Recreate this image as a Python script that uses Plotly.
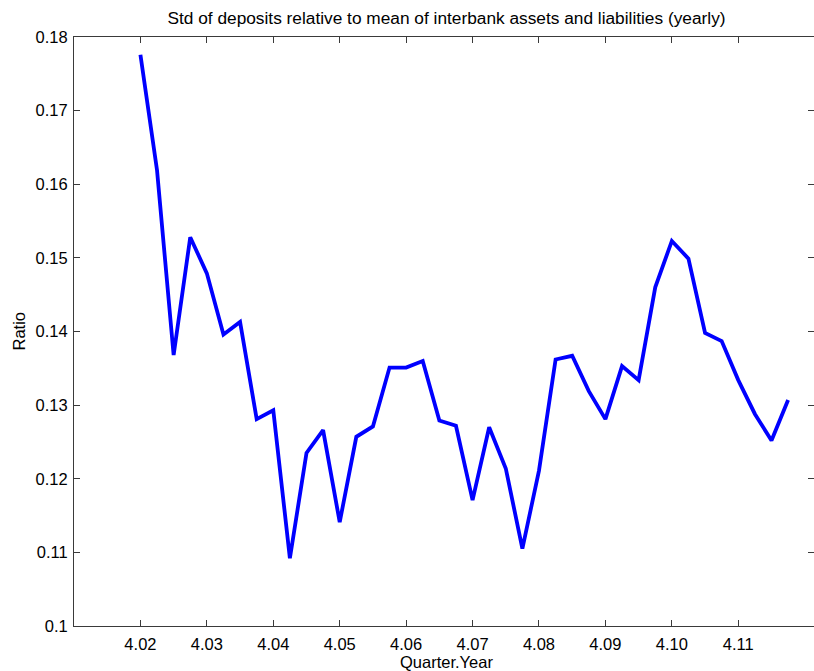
import plotly.graph_objects as go

# Data
quarters = [4.02 + 0.0025 * i for i in range(40)]
ratio = [0.1776, 0.1619, 0.1368, 0.1528, 0.1479, 0.1396, 0.1413, 0.1281, 0.1293, 0.1092,
         0.1235, 0.1266, 0.1141, 0.1257, 0.1271, 0.1351, 0.1351, 0.1360, 0.1279, 0.1272,
         0.1171, 0.1270, 0.1214, 0.1105, 0.1211, 0.1362, 0.1367, 0.1319, 0.1281, 0.1353,
         0.1334, 0.1460, 0.1523, 0.1499, 0.1398, 0.1387, 0.1334, 0.1288, 0.1252, 0.1307]
x_tick_vals = [4.02, 4.03, 4.04, 4.05, 4.06, 4.07, 4.08, 4.09, 4.10, 4.11]
x_tick_text = ["4.02", "4.03", "4.04", "4.05", "4.06", "4.07", "4.08", "4.09", "4.10", "4.11"]
y_tick_vals = [0.10, 0.11, 0.12, 0.13, 0.14, 0.15, 0.16, 0.17, 0.18]
y_tick_text = ["0.1", "0.11", "0.12", "0.13", "0.14", "0.15", "0.16", "0.17", "0.18"]

FONT = "Liberation Sans, Arial, sans-serif"
AX = "#3a3a3a"

fig = go.Figure()
fig.add_trace(go.Scatter(x=quarters, y=ratio, mode="lines",
                         line=dict(color="#0000FF", width=3.8),
                         showlegend=False, hoverinfo="x+y"))
fig.add_trace(go.Scatter(x=quarters, y=ratio, mode="lines", yaxis="y2",
                         line=dict(color="rgba(0,0,0,0)", width=0),
                         showlegend=False, hoverinfo="skip"))

W, H = 814, 671
L, R, T, B = 74, 0, 37, 45
pw = W - L - R
ph = H - T - B

fig.update_layout(
    width=W, height=H,
    margin=dict(l=L, r=R, t=T, b=B),
    paper_bgcolor="white", plot_bgcolor="white",
    font=dict(family=FONT, size=16, color="black"),
    title=dict(text="Std of deposits relative to mean of interbank assets and liabilities (yearly)",
               x=446.5 / W, xanchor="center",
               y=1 - 17.5 / H, yanchor="middle", yref="container",
               font=dict(family=FONT, size=17.3, color="black")),
    xaxis=dict(range=[4.01, 4.1214], tickvals=x_tick_vals, ticktext=x_tick_text,
               showgrid=False, zeroline=False, showline=True, linecolor=AX, linewidth=1,
               mirror="ticks", ticks="inside", ticklen=6, tickcolor=AX,
               ticklabelstandoff=3,
               tickfont=dict(family=FONT, size=16.5, color="black")),
    yaxis=dict(range=[0.10, 0.18], tickvals=y_tick_vals, ticktext=y_tick_text,
               showgrid=False, zeroline=False, showline=True, linecolor=AX, linewidth=1,
               mirror=False, ticks="inside", ticklen=6, tickcolor=AX,
               ticklabelstandoff=2,
               tickfont=dict(family=FONT, size=16.5, color="black")),
    yaxis2=dict(range=[0.10, 0.18], overlaying="y", side="right", matches="y",
                tickvals=y_tick_vals, showticklabels=False, showgrid=False,
                zeroline=False, showline=False, ticks="inside", ticklen=6, tickcolor=AX),
    annotations=[
        dict(text="Quarter.Year", xref="paper", yref="paper", x=(446.5 - L) / pw, y=-35.5 / ph,
             xanchor="center", yanchor="middle", showarrow=False,
             font=dict(family=FONT, size=16.5, color="black")),
        dict(text="Ratio", xref="paper", yref="paper", x=-(L - 18) / pw, y=0.5,
             xanchor="center", yanchor="middle", textangle=-90, showarrow=False,
             font=dict(family=FONT, size=16.5, color="black")),
    ],
)

fig.write_html(
    "out.html",
    config={"displayModeBar": False},
    post_script="document.documentElement.style.margin='0';"
                "document.body.style.margin='0';"
                "document.body.style.overflow='hidden';"
                "document.documentElement.style.overflow='hidden';",
)
